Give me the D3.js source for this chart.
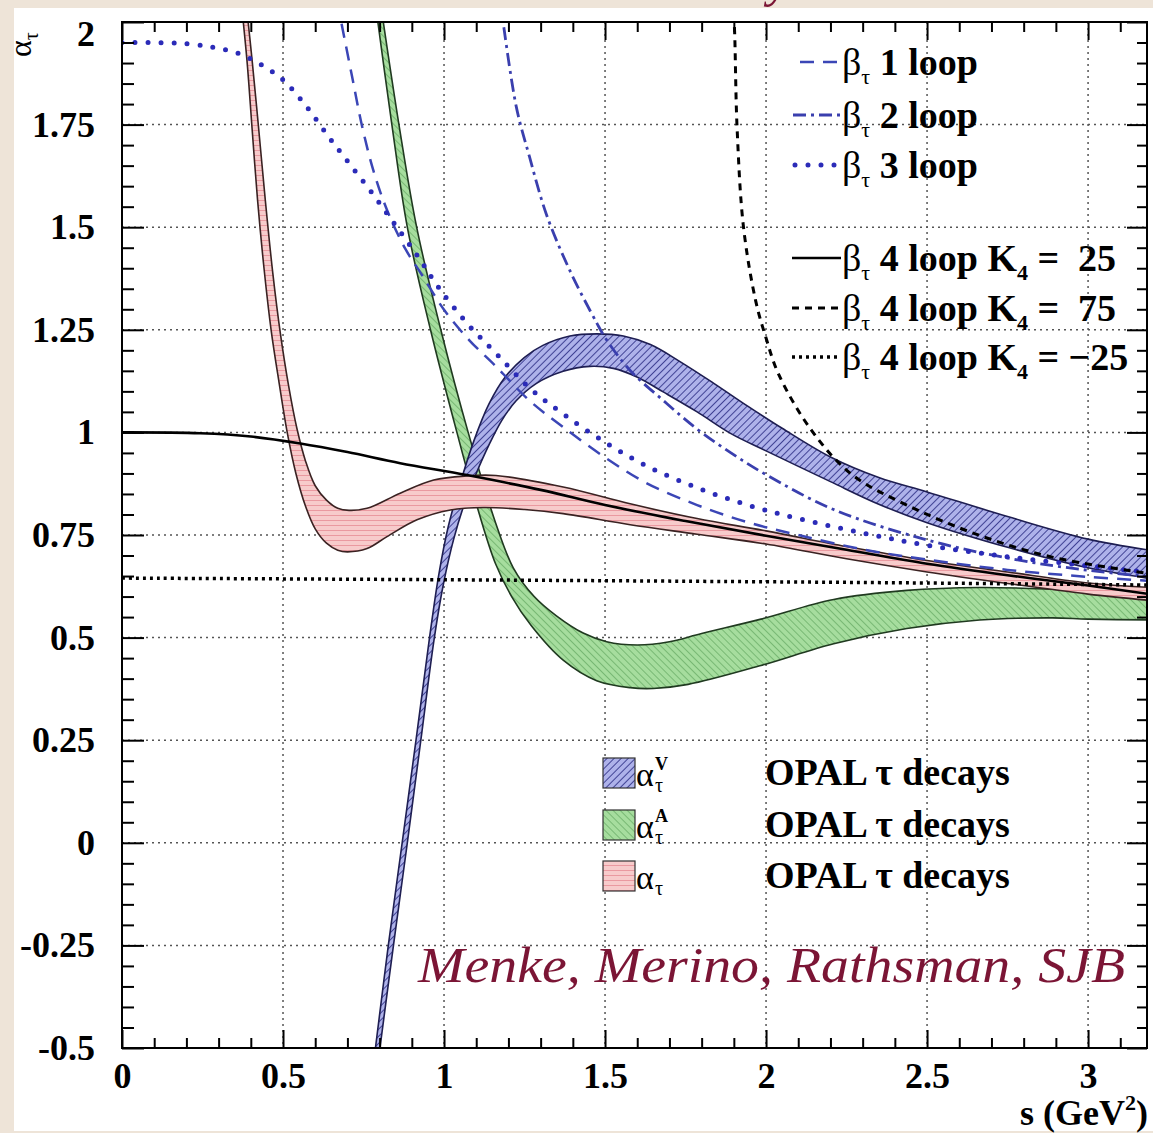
<!DOCTYPE html>
<html>
<head>
<meta charset="utf-8">
<script src="https://cdn.jsdelivr.net/npm/d3@7"></script>
<style>
  html, body { margin: 0; padding: 0; background: #eee4d8; }
  svg { display: block; }
  text { font-family: "Liberation Serif", "Times New Roman", serif; }
</style>
</head>
<body>
<div id="chart"></div>
<script>
// axis ticks
const xMajor = [0, 0.5, 1, 1.5, 2, 2.5, 3];
const xLabels = ['0', '0.5', '1', '1.5', '2', '2.5', '3'];
const yMajor = [-0.5, -0.25, 0, 0.25, 0.5, 0.75, 1, 1.25, 1.5, 1.75, 2];
const yLabels = ['-0.5', '-0.25', '0', '0.25', '0.5', '0.75', '1', '1.25', '1.5', '1.75', '2'];

// OPAL bands [s, alpha]
const blueUpper = [[0.770,-0.6],[0.787,-0.5],[0.827,-0.25],[0.870,0.0],[0.913,0.25],[0.955,0.5],[0.983,0.65],[1.013,0.77],[1.048,0.87],[1.093,0.98],[1.14,1.07],[1.19,1.135],[1.25,1.183],[1.307,1.212],[1.391,1.235],[1.474,1.240],[1.557,1.235],[1.641,1.214],[1.734,1.172],[1.839,1.119],[1.943,1.064],[2.05,1.01],[2.2,0.94],[2.35,0.89],[2.5,0.855],[2.75,0.795],[3.0,0.74],[3.2,0.712]];
const blueLower = [[0.785,-0.6],[0.801,-0.5],[0.843,-0.25],[0.886,0.0],[0.928,0.25],[0.97,0.5],[0.998,0.63],[1.03,0.74],[1.065,0.83],[1.1,0.9],[1.14,0.97],[1.18,1.03],[1.224,1.077],[1.286,1.119],[1.37,1.149],[1.453,1.161],[1.526,1.156],[1.599,1.135],[1.682,1.098],[1.786,1.05],[1.891,0.997],[2.0,0.955],[2.2,0.88],[2.35,0.825],[2.5,0.78],[2.75,0.72],[3.0,0.67],[3.2,0.643]];
const greenUpper = [[0.802,2.05],[0.86,1.75],[0.915,1.5],[0.99,1.25],[1.075,1.0],[1.16,0.78],[1.215,0.67],[1.28,0.6],[1.349,0.553],[1.432,0.511],[1.505,0.49],[1.6,0.482],[1.7,0.49],[1.8,0.51],[1.984,0.545],[2.21,0.593],[2.437,0.615],[2.663,0.622],[2.889,0.618],[3.0,0.614],[3.2,0.61]];
const greenLower = [[0.786,2.05],[0.838,1.75],[0.886,1.5],[0.958,1.25],[1.04,1.0],[1.11,0.8],[1.16,0.68],[1.21,0.6],[1.27,0.53],[1.37,0.445],[1.474,0.395],[1.578,0.378],[1.65,0.376],[1.758,0.386],[1.984,0.432],[2.21,0.485],[2.437,0.522],[2.663,0.543],[2.889,0.548],[3.0,0.545],[3.2,0.543]];
const redUpper = [[0.385,2.05],[0.404,1.907],[0.425,1.735],[0.445,1.566],[0.468,1.39],[0.492,1.24],[0.517,1.115],[0.543,1.01],[0.57,0.93],[0.6,0.87],[0.635,0.835],[0.67,0.815],[0.705,0.81],[0.761,0.815],[0.864,0.852],[0.968,0.884],[1.071,0.894],[1.161,0.895],[1.37,0.867],[1.578,0.826],[1.786,0.79],[2.0,0.76],[2.25,0.722],[2.5,0.688],[2.75,0.66],[3.0,0.633],[3.2,0.622]];
const redLower = [[0.37,2.05],[0.388,1.907],[0.404,1.74],[0.421,1.566],[0.441,1.4],[0.463,1.25],[0.488,1.12],[0.513,1.0],[0.54,0.9],[0.57,0.82],[0.6,0.765],[0.635,0.73],[0.67,0.713],[0.70,0.709],[0.761,0.717],[0.823,0.746],[0.916,0.787],[1.02,0.811],[1.123,0.817],[1.25,0.812],[1.37,0.802],[1.578,0.775],[1.786,0.752],[2.0,0.728],[2.25,0.692],[2.5,0.66],[2.75,0.632],[3.0,0.606],[3.2,0.59]];

// beta function curves [s, alpha]
const beta1 = [[0.668,2.05],[0.714,1.869],[0.745,1.748],[0.781,1.637],[0.823,1.542],[0.88,1.447],[0.932,1.383],[1.0,1.299],[1.078,1.225],[1.161,1.161],[1.266,1.077],[1.37,1.013],[1.5,0.939],[1.63,0.876],[1.786,0.823],[1.943,0.781],[2.1,0.75],[2.3,0.715],[2.5,0.69],[2.75,0.665],[3.0,0.648],[3.2,0.638]];
const beta2 = [[1.175,2.05],[1.224,1.795],[1.266,1.67],[1.318,1.531],[1.391,1.394],[1.474,1.267],[1.505,1.225],[1.578,1.151],[1.682,1.077],[1.786,1.008],[1.891,0.95],[2.0,0.897],[2.21,0.812],[2.5,0.738],[2.776,0.69],[3.0,0.664],[3.2,0.648]];
const beta3 = [[0,1.95],[0.1,1.95],[0.2,1.947],[0.285,1.938],[0.36,1.924],[0.43,1.897],[0.5,1.859],[0.57,1.797],[0.641,1.721],[0.703,1.658],[0.776,1.584],[0.849,1.505],[0.922,1.425],[0.984,1.352],[1.078,1.26],[1.161,1.193],[1.266,1.108],[1.37,1.045],[1.5,0.976],[1.63,0.918],[1.786,0.865],[1.943,0.823],[2.1,0.79],[2.3,0.755],[2.5,0.725],[2.75,0.697],[3.0,0.675],[3.2,0.658]];
const k4p25 = [[0,1.0],[0.243,0.998],[0.4,0.99],[0.554,0.973],[0.7,0.952],[0.864,0.925],[1.071,0.896],[1.3,0.86],[1.5,0.823],[1.75,0.784],[2.0,0.748],[2.25,0.714],[2.5,0.68],[2.75,0.652],[3.0,0.627],[3.2,0.605]];
const k4p75 = [[1.895,2.05],[1.901,2.0],[1.91,1.743],[1.93,1.5],[1.968,1.32],[2.0,1.23],[2.04,1.14],[2.143,1.003],[2.267,0.897],[2.437,0.823],[2.663,0.749],[2.889,0.696],[3.2,0.655]];
const k4m25 = [[0,0.645],[1.0,0.641],[2.0,0.636],[2.5,0.633],[3.2,0.628]];

const lineStyles = {
  beta1: { stroke: '#3b46b6', width: 2.5, dash: '14,9' },
  beta2: { stroke: '#3a3fae', width: 2.8, dash: '13,5,3,5' },
  beta3: { stroke: '#2b2bb8', width: 5, dash: '0,13', cap: 'round' },
  k4p25: { stroke: '#000', width: 2.6 },
  k4p75: { stroke: '#000', width: 3, dash: '7,6' },
  k4m25: { stroke: '#000', width: 3.5, dash: '3,4' }
};

const width = 1153;
const height = 1133;

const svg = d3.select('#chart').append('svg')
  .attr('width', width)
  .attr('height', height);

svg.append('rect').attr('width', width).attr('height', height).attr('fill', '#eee4d8');
svg.append('rect').attr('x', 14).attr('y', 8).attr('width', width - 14).attr('height', 1123).attr('fill', '#fff');

const x = d3.scaleLinear().domain([0, 3.183]).range([122, 1147]);
const y = d3.scaleLinear().domain([-0.5, 2]).range([1048, 22]);

const defs = svg.append('defs');
defs.append('clipPath').attr('id', 'plotClip')
  .append('rect')
  .attr('x', x(0)).attr('y', y(2))
  .attr('width', x(3.183) - x(0)).attr('height', y(-0.5) - y(2));

function hatch(id, bg, fg, w, angle, lw) {
  const p = defs.append('pattern').attr('id', id)
    .attr('patternUnits', 'userSpaceOnUse')
    .attr('width', w).attr('height', w)
    .attr('patternTransform', `rotate(${angle})`);
  p.append('rect').attr('width', w).attr('height', w).attr('fill', bg);
  p.append('line').attr('x1', 0).attr('y1', 0).attr('x2', 0).attr('y2', w)
    .attr('stroke', fg).attr('stroke-width', lw);
}
hatch('hatchBlue', '#aeb2ea', '#34368c', 5, 45, 1.8);
hatch('hatchGreen', '#a6dd9e', '#4a944a', 5, -45, 1);
hatch('hatchRed', '#f7cbcb', '#e0707c', 5, 90, 1.1);

// grid
const grid = svg.append('g');
grid.selectAll('.gx').data(xMajor.filter(d => d > 0))
  .enter().append('line')
  .attr('x1', d => x(d)).attr('x2', d => x(d))
  .attr('y1', y(2)).attr('y2', y(-0.5))
  .attr('stroke', '#555').attr('stroke-width', 1.5).attr('stroke-dasharray', '2,4');
grid.selectAll('.gy').data(yMajor.filter(d => d > -0.5 && d < 2))
  .enter().append('line')
  .attr('x1', x(0)).attr('x2', x(3.183))
  .attr('y1', d => y(d)).attr('y2', d => y(d))
  .attr('stroke', '#555').attr('stroke-width', 1.5).attr('stroke-dasharray', '2,4');

const plot = svg.append('g').attr('clip-path', 'url(#plotClip)');

const line = d3.line()
  .x(d => x(d[0]))
  .y(d => y(d[1]))
  .curve(d3.curveCatmullRom.alpha(0.5));

function bandPath(upper, lower) {
  const back = line(lower.slice().reverse());
  return line(upper) + 'L' + back.slice(1) + 'Z';
}

function drawBand(upper, lower, fill, edge) {
  plot.append('path').attr('d', bandPath(upper, lower)).attr('fill', fill);
  [upper, lower].forEach(edgeData => {
    plot.append('path').attr('d', line(edgeData))
      .attr('fill', 'none').attr('stroke', edge).attr('stroke-width', 1.6);
  });
}

function styleLine(sel, s) {
  sel.attr('fill', 'none')
    .attr('stroke', s.stroke)
    .attr('stroke-width', s.width)
    .attr('stroke-dasharray', s.dash || null)
    .attr('stroke-linecap', s.cap || 'butt');
}

drawBand(greenUpper, greenLower, 'url(#hatchGreen)', '#203a20');
drawBand(blueUpper, blueLower, 'url(#hatchBlue)', '#1e1e52');
drawBand(redUpper, redLower, 'url(#hatchRed)', '#3a2222');

const curves = { beta1, beta2, beta3, k4p25, k4p75, k4m25 };
Object.keys(curves).forEach(k => {
  plot.append('path').attr('d', line(curves[k])).call(styleLine, lineStyles[k]);
});

// axes, ticks inside on all four sides
const xMinor = d3.range(0, 32).filter(i => i % 5 !== 0).map(i => i / 10);
const yMinor = d3.range(-10, 41).filter(i => i % 5 !== 0).map(i => i / 20);

function tidy(g) {
  g.select('.domain').remove();
  g.selectAll('line').attr('stroke', '#000').attr('stroke-width', 2);
  g.attr('font-family', '"Liberation Serif", "Times New Roman", serif')
    .attr('font-size', 36).attr('font-weight', 'bold');
  g.selectAll('text').attr('fill', '#000');
}

svg.append('g').attr('transform', `translate(0,${y(-0.5)})`)
  .call(d3.axisBottom(x).tickValues(xMajor).tickSize(-18).tickSizeOuter(0).tickPadding(14)
    .tickFormat((d, i) => xLabels[i]))
  .call(tidy);
svg.append('g').attr('transform', `translate(0,${y(-0.5)})`)
  .call(d3.axisBottom(x).tickValues(xMinor).tickSize(-10).tickSizeOuter(0).tickFormat(''))
  .call(tidy);
svg.append('g').attr('transform', `translate(0,${y(2)})`)
  .call(d3.axisTop(x).tickValues(xMajor).tickSize(-18).tickSizeOuter(0).tickFormat(''))
  .call(tidy);
svg.append('g').attr('transform', `translate(0,${y(2)})`)
  .call(d3.axisTop(x).tickValues(xMinor).tickSize(-10).tickSizeOuter(0).tickFormat(''))
  .call(tidy);

const yAxisG = svg.append('g').attr('transform', `translate(${x(0)},0)`)
  .call(d3.axisLeft(y).tickValues(yMajor).tickSize(-22).tickSizeOuter(0).tickPadding(27)
    .tickFormat((d, i) => yLabels[i]))
  .call(tidy);
yAxisG.selectAll('.tick text').filter(d => d === 2).attr('y', 12);
svg.append('g').attr('transform', `translate(${x(0)},0)`)
  .call(d3.axisLeft(y).tickValues(yMinor).tickSize(-12).tickSizeOuter(0).tickFormat(''))
  .call(tidy);
svg.append('g').attr('transform', `translate(${x(3.183)},0)`)
  .call(d3.axisRight(y).tickValues(yMajor).tickSize(-20).tickSizeOuter(0).tickFormat(''))
  .call(tidy);
svg.append('g').attr('transform', `translate(${x(3.183)},0)`)
  .call(d3.axisRight(y).tickValues(yMinor).tickSize(-10).tickSizeOuter(0).tickFormat(''))
  .call(tidy);

svg.append('rect')
  .attr('x', x(0)).attr('y', y(2))
  .attr('width', x(3.183) - x(0)).attr('height', y(-0.5) - y(2))
  .attr('fill', 'none').attr('stroke', '#000').attr('stroke-width', 2);

// axis titles
const xt = svg.append('text')
  .attr('x', 1148).attr('y', 1125)
  .attr('text-anchor', 'end')
  .attr('font-size', 36).attr('font-weight', 'bold')
  .style('white-space', 'pre');
xt.append('tspan').text('s (GeV');
xt.append('tspan').attr('font-size', 22).attr('dy', -15).text('2');
xt.append('tspan').attr('dy', 15).text(')');

const yt = svg.append('text')
  .attr('transform', 'translate(31,57) rotate(-90)')
  .attr('font-size', 32);
yt.append('tspan').text('α');
yt.append('tspan').attr('font-size', 20).attr('dy', 7).text('τ');

// legend: curves
const legendRows = [
  { key: 'beta1', ly: 62, x1: 800, pre: ' 1 loop' },
  { key: 'beta2', ly: 115, x1: 793, pre: ' 2 loop' },
  { key: 'beta3', ly: 165, x1: 795, pre: ' 3 loop' },
  { key: 'k4p25', ly: 258, x1: 792, pre: ' 4 loop K', val: ' =  25' },
  { key: 'k4p75', ly: 308, x1: 792, pre: ' 4 loop K', val: ' =  75' },
  { key: 'k4m25', ly: 357, x1: 792, pre: ' 4 loop K', val: ' = \u221225' }
];
const leg = svg.append('g');
legendRows.forEach(r => {
  leg.append('line')
    .attr('x1', r.x1).attr('x2', 841).attr('y1', r.ly).attr('y2', r.ly)
    .call(styleLine, lineStyles[r.key]);
  const t = leg.append('text')
    .attr('x', 842).attr('y', r.ly + 13)
    .attr('font-size', 38).attr('font-weight', 'bold')
    .style('white-space', 'pre');
  t.append('tspan').attr('font-weight', 'normal').text('β');
  t.append('tspan').attr('font-weight', 'normal').attr('font-size', 22).attr('dy', 9).text('τ');
  t.append('tspan').attr('dy', -9).text(r.pre);
  if (r.val) {
    t.append('tspan').attr('font-size', 22).attr('dy', 9).text('4');
    t.append('tspan').attr('dy', -9).text(r.val);
  }
});

// legend: bands
const bandRows = [
  { fill: 'url(#hatchBlue)', by: 758, sup: 'V' },
  { fill: 'url(#hatchGreen)', by: 810, sup: 'A' },
  { fill: 'url(#hatchRed)', by: 861, sup: null }
];
bandRows.forEach(r => {
  leg.append('rect')
    .attr('x', 603).attr('y', r.by).attr('width', 32).attr('height', 30)
    .attr('fill', r.fill).attr('stroke', '#333').attr('stroke-width', 1.2);
  leg.append('text').attr('x', 636).attr('y', r.by + 28)
    .attr('font-size', 34).text('α');
  if (r.sup) {
    leg.append('text').attr('x', 655).attr('y', r.by + 12)
      .attr('font-size', 18).attr('font-weight', 'bold').text(r.sup);
  }
  leg.append('text').attr('x', 655).attr('y', r.by + 34)
    .attr('font-size', 20).text('τ');
  leg.append('text').attr('x', 765).attr('y', r.by + 27)
    .attr('font-size', 38).attr('font-weight', 'bold')
    .text('OPAL τ decays');
});

// authors
svg.append('text')
  .attr('x', 418).attr('y', 982)
  .attr('font-size', 50).attr('font-style', 'italic')
  .attr('fill', '#7b1535')
  .attr('textLength', 707).attr('lengthAdjust', 'spacingAndGlyphs')
  .text('Menke, Merino, Rathsman, SJB');

// cut-off title glyph at the top edge
svg.append('text')
  .attr('x', 768).attr('y', -4)
  .attr('font-size', 50).attr('font-style', 'italic')
  .attr('fill', '#7b1535')
  .text('y');
</script>
</body>
</html>
